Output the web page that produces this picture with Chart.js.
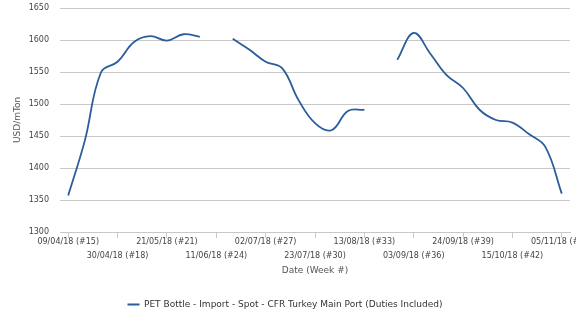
<!DOCTYPE html>
<html>
<head>
<meta charset="utf-8">
<script src="https://cdn.jsdelivr.net/npm/chart.js@4/dist/chart.umd.min.js"></script>
<style>
  html, body { margin: 0; padding: 0; background: #fff; overflow: hidden; }
  #wrap { width: 576px; height: 332px; }
</style>
</head>
<body>
<div id="wrap"><canvas id="chart1"></canvas></div>
<script>
var weeks = [
    '09/04/18 (#15)', '16/04/18 (#16)', '23/04/18 (#17)', '30/04/18 (#18)',
    '07/05/18 (#19)', '14/05/18 (#20)', '21/05/18 (#21)', '28/05/18 (#22)',
    '04/06/18 (#23)', '11/06/18 (#24)', '18/06/18 (#25)', '25/06/18 (#26)',
    '02/07/18 (#27)', '09/07/18 (#28)', '16/07/18 (#29)', '23/07/18 (#30)',
    '30/07/18 (#31)', '06/08/18 (#32)', '13/08/18 (#33)', '20/08/18 (#34)',
    '27/08/18 (#35)', '03/09/18 (#36)', '10/09/18 (#37)', '17/09/18 (#38)',
    '24/09/18 (#39)', '01/10/18 (#40)', '08/10/18 (#41)', '15/10/18 (#42)',
    '22/10/18 (#43)', '29/10/18 (#44)', '05/11/18 (#45)'
];
var prices = [
    1357, 1442, 1550, 1566, 1597, 1606, 1599, 1609, 1605, null,
    1602, 1585, 1566, 1556, 1506, 1470, 1459, 1489, 1491, null,
    1569, 1611, 1579, 1545, 1525, 1491, 1475, 1471, 1453, 1433,
    1360
];
var seriesName = 'PET Bottle - Import - Spot - CFR Turkey Main Port (Duties Included)';
var yTicks = [1300, 1350, 1400, 1450, 1500, 1550, 1600, 1650];

Chart.defaults.font.family = '"DejaVu Sans", sans-serif';
Chart.defaults.font.size = 8;
Chart.defaults.color = '#555';

var lineColor = '#2b5d9b';
var gridColor = '#c8c8c8';

var ctx1 = document.getElementById('chart1').getContext('2d');

var chart1 = new Chart(ctx1, {
    type: 'line',
    data: {
        labels: weeks,
        datasets: [{
            label: seriesName,
            data: prices,
            borderColor: lineColor,
            backgroundColor: lineColor,
            borderWidth: 1.8,
            pointRadius: 0,
            tension: 0.4,
            spanGaps: false
        }]
    },
    options: {
        responsive: true,
        maintainAspectRatio: false,
        animation: false,
        layout: { padding: { top: 8, right: 6, bottom: 13, left: 0 } },
        plugins: {
            tooltip: { enabled: false },
            legend: {
                position: 'bottom',
                labels: {
                    boxWidth: 12,
                    boxHeight: 2,
                    padding: 10,
                    color: '#333',
                    font: { size: 9 },
                    generateLabels: function (chart) {
                        var items = Chart.defaults.plugins.legend.labels.generateLabels(chart);
                        items.forEach(function (it) { it.lineWidth = 0; });
                        return items;
                    }
                }
            }
        },
        scales: {
            x: {
                offset: true,
                grid: {
                    offset: false,
                    drawOnChartArea: false,
                    drawTicks: true,
                    tickLength: 6,
                    color: function (c) {
                        return c.index % 3 === 0 ? gridColor : 'rgba(0,0,0,0)';
                    }
                },
                border: { color: gridColor },
                ticks: {
                    autoSkip: false,
                    maxRotation: 0,
                    minRotation: 0,
                    padding: -3,
                    color: '#444',
                    font: { size: 8, lineHeight: '14px' },
                    callback: function (v, i) {
                        if (i % 3 !== 0) return '';
                        var lbl = weeks[i];
                        // alternate rows so neighbouring dates don't collide
                        return (i / 3) % 2 === 0 ? [lbl, ''] : ['', lbl];
                    }
                },
                title: {
                    display: true,
                    text: 'Date (Week #)',
                    color: '#555',
                    font: { size: 9 },
                    padding: { top: 3, bottom: 14 }
                },
                afterFit: function (scale) {
                    scale.paddingLeft = 0;
                    scale.paddingRight = 0;
                    scale.height = 58;
                }
            },
            y: {
                min: 1300,
                max: 1650,
                afterBuildTicks: function (scale) {
                    scale.ticks = yTicks.map(function (v) { return { value: v }; });
                },
                grid: {
                    color: gridColor,
                    drawTicks: false
                },
                border: { display: false },
                ticks: {
                    padding: 11,
                    color: '#444',
                    callback: function (v) { return String(v); }
                },
                title: {
                    display: true,
                    text: 'USD/mTon',
                    color: '#555',
                    font: { size: 9 },
                    padding: { top: 12, bottom: 7 }
                },
                afterFit: function (scale) {
                    scale.width = 60;
                    scale.paddingTop = 0;
                    scale.paddingBottom = 0;
                }
            }
        }
    }
});
</script>
</body>
</html>
